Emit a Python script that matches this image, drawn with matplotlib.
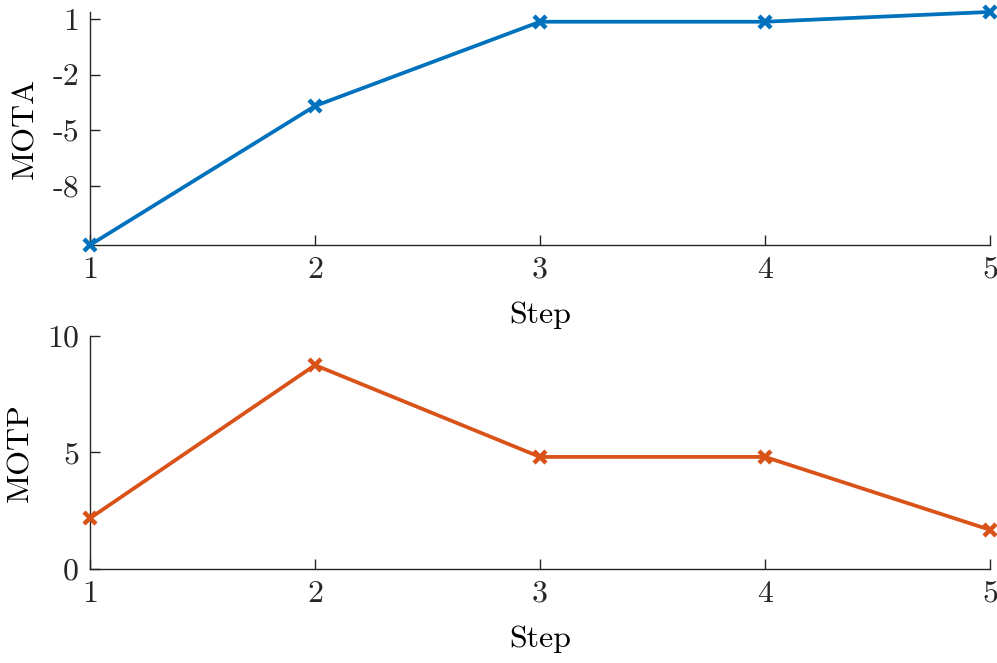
import matplotlib
matplotlib.use('Agg')
import matplotlib.pyplot as plt
from matplotlib.ticker import FuncFormatter

plt.rcParams['font.family'] = 'serif'
plt.rcParams['font.serif'] = ['cmr10']
plt.rcParams['axes.unicode_minus'] = False
plt.rcParams['font.size'] = 23

steps = [1, 2, 3, 4, 5]
mota = [-11.2, -3.69, 0.86, 0.86, 1.39]
motp = [2.18, 8.75, 4.81, 4.81, 1.68]
mota_ticks = [-8, -5, -2, 1]
motp_ticks = [0, 5, 10]

fig = plt.figure(figsize=(9.97, 6.63), dpi=100)
ax1 = fig.add_axes([0.0903, 0.6305, 0.9027, 0.3515])
ax2 = fig.add_axes([0.0903, 0.1418, 0.9027, 0.3514])

fmt = FuncFormatter(lambda v, p: f'{v:g}')

for ax, vals, color, label, yt in [(ax1, mota, '#0072BD', 'MOTA', mota_ticks),
                                   (ax2, motp, '#D95319', 'MOTP', motp_ticks)]:
    ax.plot(steps, vals, color=color, lw=2.7, marker='x', ms=9, mew=3.2, clip_on=False, zorder=5)
    ax.set_xlim(1, 5)
    ax.set_xticks(steps)
    ax.set_yticks(yt)
    ax.xaxis.set_major_formatter(fmt)
    ax.yaxis.set_major_formatter(fmt)
    ax.set_xlabel('Step', labelpad=13)
    ax.set_ylabel(label, labelpad=9)
    for s in ['top', 'right']:
        ax.spines[s].set_visible(False)
    for s in ['left', 'bottom']:
        ax.spines[s].set_color('#262626')
        ax.spines[s].set_linewidth(1.0)
    ax.tick_params(direction='in', length=7, width=1.0, color='#262626',
                   labelcolor='#262626', pad=8)

ax1.set_ylim(min(mota), max(mota))
ax2.set_ylim(0, 10)

fig.savefig('out.png', dpi=100)
